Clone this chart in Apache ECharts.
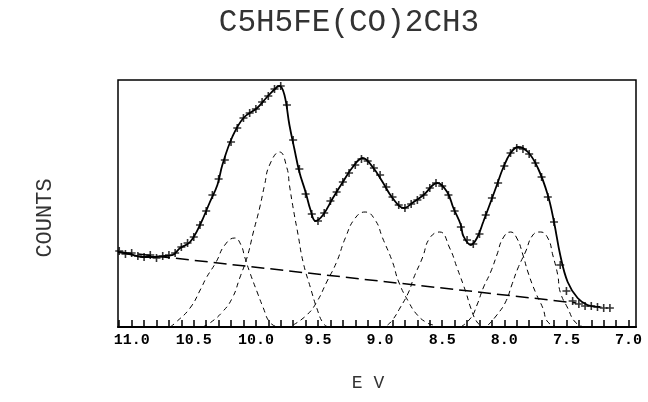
<!DOCTYPE html>
<html lang="en">
<head>
	<meta charset="UTF-8">
	<title>C5H5FE(CO)2CH3</title>
	<script src="https://cdn.jsdelivr.net/npm/echarts/dist/echarts.min.js"></script>
	<style>
		html, body { margin: 0; padding: 0; background: #fff; }
		#chart { width: 648px; height: 402px; }
	</style>
</head>
<body>
	<div id="chart"></div>
	<script>
		// 测量点 (EV, counts)
		var dataEv = [11.10, 11.05, 11.00, 10.95, 10.90, 10.85, 10.80, 10.75, 10.70, 10.65, 10.60, 10.55, 10.50, 10.45, 10.40, 10.35, 10.30, 10.25, 10.20, 10.15,
			10.10, 10.05, 10.00, 9.95, 9.90, 9.85, 9.80, 9.75, 9.70, 9.65, 9.60, 9.55, 9.50, 9.45, 9.40, 9.35, 9.30, 9.25, 9.20, 9.15,
			9.10, 9.05, 9.00, 8.95, 8.90, 8.85, 8.80, 8.75, 8.70, 8.65, 8.60, 8.55, 8.50, 8.45, 8.40, 8.35, 8.30, 8.25, 8.20, 8.15,
			8.10, 8.05, 8.00, 7.95, 7.90, 7.85, 7.80, 7.75, 7.70, 7.65, 7.60, 7.55, 7.50, 7.45, 7.40, 7.35, 7.30, 7.25, 7.20, 7.15];
		var dataCounts = [76, 73, 74, 71, 70, 72, 69, 71, 72, 74, 80, 84, 90, 102, 116, 132, 148, 167, 185, 199,
			209, 214, 218, 225, 231, 238, 241, 222, 187, 158, 133, 113, 106, 114, 126, 135, 145, 154, 162, 168,
			166, 159, 152, 140, 130, 122, 119, 123, 127, 132, 139, 144, 141, 132, 116, 100, 87, 83, 93, 112,
			129, 144, 161, 174, 179, 178, 173, 164, 150, 130, 105, 62, 36, 26, 23, 21, 21, 20, 19, 19];

		// 拟合曲线
		var fitEv = [11.11, 11.02, 10.91, 10.81, 10.73, 10.67, 10.61, 10.53, 10.45, 10.37, 10.31, 10.27, 10.19, 10.10, 9.99, 9.91, 9.83, 9.81,
			9.77, 9.73, 9.69, 9.65, 9.60, 9.56, 9.52, 9.46, 9.38, 9.30, 9.22, 9.14, 9.06, 8.98, 8.90, 8.81, 8.73, 8.65, 8.54, 8.46,
			8.41, 8.35, 8.33, 8.27, 8.22, 8.17, 8.11, 8.06, 8.01, 7.95, 7.89, 7.81, 7.73, 7.65, 7.60, 7.55, 7.49, 7.41, 7.33, 7.23];
		var fitCounts = [75, 73, 70, 70, 71, 72, 79, 85, 102, 125, 142, 162, 190, 209, 219, 230, 240, 241,
			232, 202, 178, 155, 135, 117, 106, 112, 129, 145, 160, 169, 160, 145, 129, 119, 125, 132, 144, 135,
			119, 102, 91, 82, 89, 105, 125, 142, 159, 174, 180, 175, 159, 132, 105, 72, 45, 29, 22, 20];

		// 本底
		var bgEv = [11.10, 7.42];
		var bgCounts = [75, 24];

		// 分峰
		var peak1 = [[10.69, 0], [10.65, 4], [10.53, 19], [10.44, 39], [10.40, 49], [10.32, 65], [10.25, 82], [10.17, 89],
			[10.12, 82], [10.09, 70], [10.05, 55], [9.99, 35], [9.94, 19], [9.89, 5], [9.83, 0]];
		var peak2 = [[10.43, 0], [10.37, 4], [10.27, 15], [10.19, 29], [10.13, 49], [10.07, 70], [10.02, 95], [9.97, 119], [9.93, 142],
			[9.89, 162], [9.81, 175], [9.75, 159], [9.73, 142], [9.70, 119], [9.66, 92], [9.62, 65], [9.56, 39], [9.51, 19], [9.46, 4], [9.42, 0]];
		var peak3 = [[9.70, 2], [9.59, 12], [9.51, 25], [9.43, 45], [9.35, 65], [9.28, 89], [9.20, 109], [9.12, 115],
			[9.04, 107], [8.98, 89], [8.90, 65], [8.85, 45], [8.77, 25], [8.70, 12], [8.62, 4], [8.57, 2]];
		var peak4 = [[8.94, 2], [8.90, 7], [8.84, 19], [8.77, 35], [8.73, 49], [8.66, 69], [8.60, 89], [8.52, 95],
			[8.44, 79], [8.38, 59], [8.31, 35], [8.27, 19], [8.22, 5], [8.17, 0]];
		var peak5 = [[8.35, 0], [8.27, 9], [8.22, 22], [8.17, 39], [8.11, 55], [8.06, 72], [8.01, 89], [7.95, 95],
			[7.90, 89], [7.85, 72], [7.81, 55], [7.75, 35], [7.69, 19], [7.65, 5], [7.57, 0]];
		var peak6 = [[8.13, 2], [8.06, 12], [7.99, 25], [7.94, 42], [7.89, 59], [7.83, 75], [7.77, 92], [7.71, 95],
			[7.65, 89], [7.61, 72], [7.57, 52], [7.55, 35], [7.49, 19], [7.43, 5], [7.36, 0]];

		// 刻度
		var labelVals = [11.0, 10.5, 10.0, 9.5, 9.0, 8.5, 8.0, 7.5, 7.0];
		var tickVals = [];
		for (var t = 70; t <= 111; t++) {
			tickVals.push(t / 10);
		}

		function zip(xs, ys) {
			var out = [];
			for (var i = 0; i < xs.length; i++) {
				out.push([xs[i], ys[i]]);
			}
			return out;
		}

		var monoFont = '"Liberation Mono", "DejaVu Sans Mono", monospace';
		var plus = 'path://M4,0h2v4h4v2h-4v4h-2v-4h-4v-2h4z';

		function peakSeries(d) {
			return {
				type: 'line',
				data: d,
				smooth: 0.5,
				symbol: 'none',
				silent: true,
				lineStyle: { color: '#000', width: 1, type: [5, 4] }
			};
		}

		var myChart = echarts.init(document.getElementById('chart'));
		myChart.setOption({
			animation: false,
			backgroundColor: '#fff',
			graphic: [
				{
					type: 'text', x: 349, y: 23,
					style: { text: 'C5H5FE(CO)2CH3', font: '31px ' + monoFont, fill: '#333', align: 'center', verticalAlign: 'middle' }
				},
				{
					type: 'text', x: 45, y: 218, rotation: Math.PI / 2,
					style: { text: 'COUNTS', font: '22px ' + monoFont, fill: '#333', align: 'center', verticalAlign: 'middle' }
				},
				{
					type: 'text', x: 368, y: 383,
					style: { text: 'E V', font: '18px ' + monoFont, fill: '#333', align: 'center', verticalAlign: 'middle' }
				}
			],
			grid: {
				left: 118,
				right: 12,
				top: 80,
				bottom: 75,
				show: true,
				borderColor: '#000',
				borderWidth: 1.5
			},
			xAxis: {
				type: 'value',
				inverse: true,
				min: 6.94,
				max: 11.11,
				axisLine: { show: true, lineStyle: { color: '#000', width: 2 } },
				axisTick: {
					show: true,
					inside: true,
					length: 7,
					customValues: tickVals,
					lineStyle: { color: '#000', width: 1.5 }
				},
				axisLabel: {
					customValues: labelVals,
					formatter: function (v) { return v.toFixed(1); },
					color: '#000',
					fontFamily: monoFont,
					fontSize: 15,
					fontWeight: 'bold',
					margin: 6
				},
				splitLine: { show: false }
			},
			yAxis: {
				type: 'value',
				min: 0,
				max: 247,
				show: false,
				splitLine: { show: false }
			},
			series: [
				peakSeries(peak1),
				peakSeries(peak2),
				peakSeries(peak3),
				peakSeries(peak4),
				peakSeries(peak5),
				peakSeries(peak6),
				{
					type: 'line',
					data: zip(bgEv, bgCounts),
					symbol: 'none',
					lineStyle: { color: '#000', width: 1.5, type: [13, 6] }
				},
				{
					type: 'line',
					data: zip(fitEv, fitCounts),
					smooth: 0.4,
					symbol: 'none',
					lineStyle: { color: '#000', width: 1.8 }
				},
				{
					type: 'scatter',
					data: zip(dataEv, dataCounts),
					symbol: plus,
					symbolSize: 8,
					itemStyle: { color: '#000' }
				}
			]
		});
	</script>
</body>
</html>
